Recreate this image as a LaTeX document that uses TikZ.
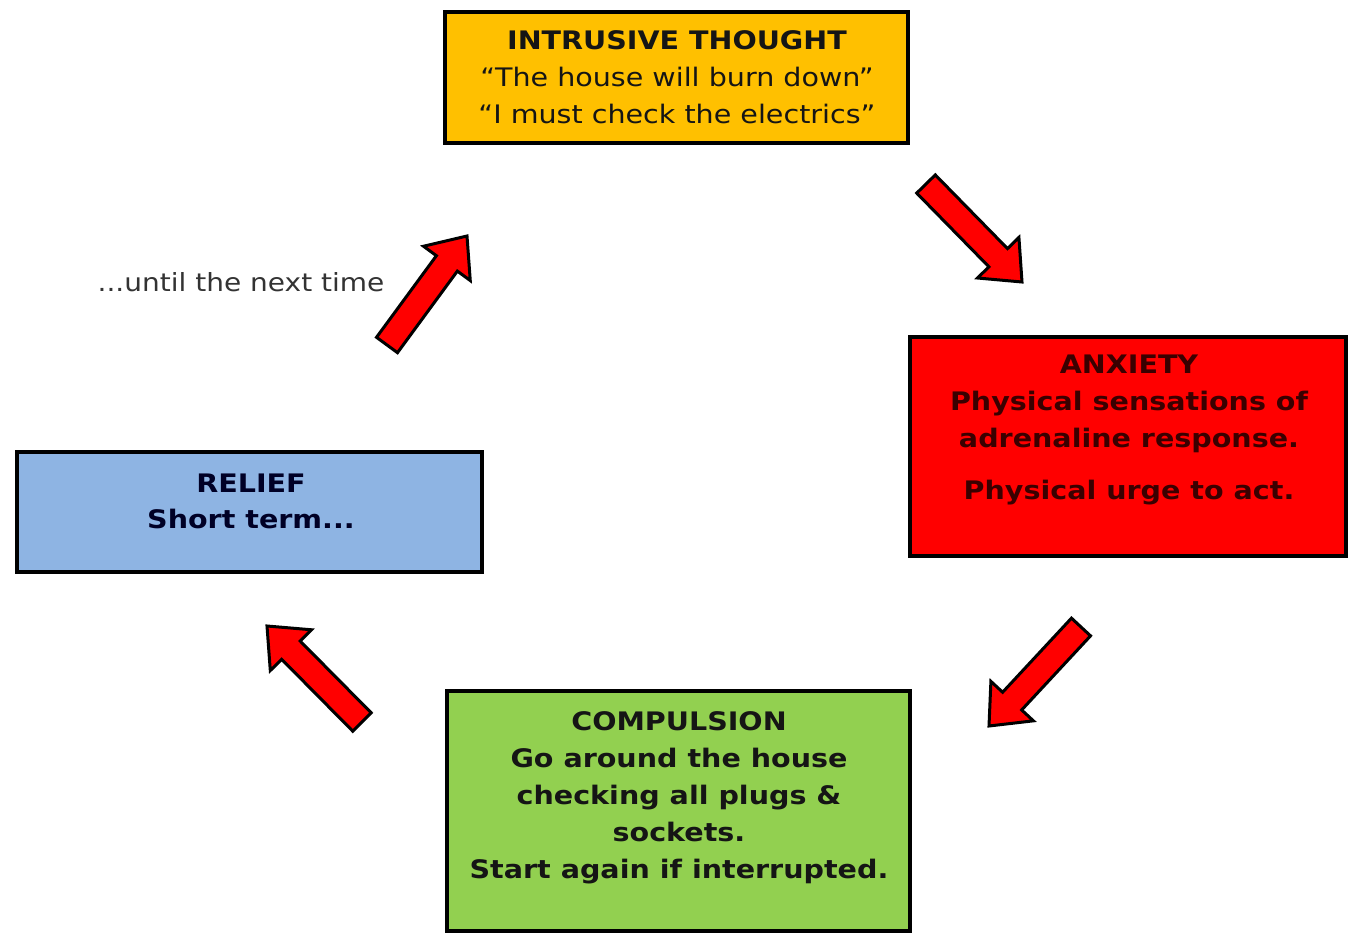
\documentclass[tikz,border=0pt]{standalone}
\usepackage{fontspec}
\setmainfont{DejaVu Sans}[FakeStretch=1.12]
\usetikzlibrary{calc}
\definecolor{cyellow}{HTML}{FFC000}
\definecolor{cred}{HTML}{FF0000}
\definecolor{cblue}{HTML}{8EB4E3}
\definecolor{cgreen}{HTML}{92D050}
\definecolor{ctext}{HTML}{151515}
\definecolor{canx}{HTML}{3A0000}
\tikzset{
  box/.style={draw=black, line width=4.5pt, inner sep=0pt},
  txt/.style={align=center, inner sep=0pt, text=ctext, font=\fontsize{25.5}{37}\selectfont},
  arr/.style={draw=black, line width=3pt, fill=cred, line join=miter}
}
\newcommand\redarrow[3]{%
  \coordinate (#1t) at #2;
  \coordinate (#1h) at #3;
  \coordinate (#1b) at ($(#1h)!34pt!(#1t)$);
  \draw[arr] ($(#1t)!13pt!90:(#1h)$) -- ($(#1b)!13pt!90:(#1h)$) -- ($(#1b)!29pt!90:(#1h)$)
    -- (#1h) -- ($(#1b)!29pt!-90:(#1h)$) -- ($(#1b)!13pt!-90:(#1h)$) -- ($(#1t)!13pt!-90:(#1h)$) -- cycle;}
\begin{document}
\begin{tikzpicture}[x=1pt,y=-1pt]
\useasboundingbox (0,0) rectangle (1353,934);
% boxes
\node[box, fill=cyellow, minimum width=463pt, minimum height=131pt] (intrBox) at (676.5,77.5) {};
\node[box, fill=cred, minimum width=436pt, minimum height=219pt] (anxBox) at (1128,446.5) {};
\node[box, fill=cblue, minimum width=465pt, minimum height=120pt] (relBox) at (249.5,512) {};
\node[box, fill=cgreen, minimum width=463pt, minimum height=240pt] (compBox) at (678.5,811) {};
% texts
\node[txt] (intrTxt) at (677,77) {\textbf{INTRUSIVE THOUGHT}\\“The house will burn down”\\“I must check the electrics”};
\node[txt, text=canx, font=\fontsize{25.5}{37}\selectfont\bfseries] (anxTxt) at (1129,430) {ANXIETY\\Physical sensations of\\adrenaline response.\\[15pt]Physical urge to act.};
\node[txt, font=\fontsize{25.5}{36}\selectfont\bfseries, text=black!85!blue] (relTxt) at (251,501) {RELIEF\\Short term...};
\node[txt, font=\fontsize{25.5}{37}\selectfont\bfseries] (compTxt) at (679,798) {COMPULSION\\Go around the house\\checking all plugs \&\\sockets.\\Start again if interrupted.};
\node[txt, text=black!80, font=\fontsize{25}{30}\selectfont] (untilTxt) at (241,282) {...until the next time};
% arrows
\redarrow{a1}{(926,184)}{(1022,282)}
\redarrow{a2}{(1081,627)}{(989,726)}
\redarrow{a3}{(362,722)}{(267,626)}
\redarrow{a4}{(387,345)}{(467,236)}
\end{tikzpicture}
\end{document}
